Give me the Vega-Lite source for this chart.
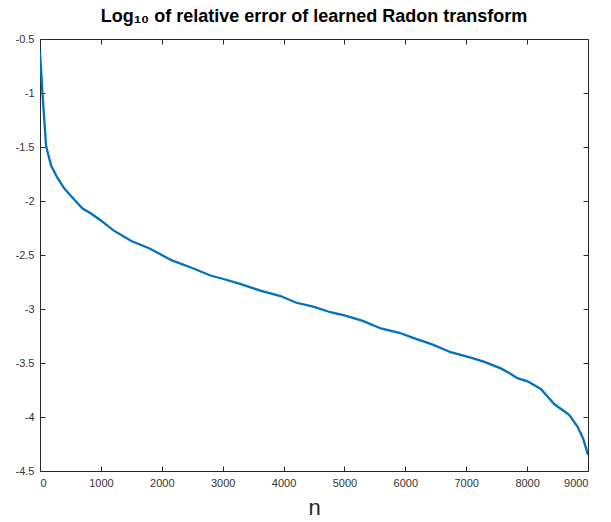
{
  "$schema": "https://vega.github.io/schema/vega-lite/v6.json",
  "autosize": {"type": "none"},
  "padding": {"left": 40, "top": 39, "right": 23, "bottom": 51},
  "width": 548,
  "height": 432,
  "background": "white",
  "config": {
    "view": {"stroke": "#262626", "strokeWidth": 1},
    "font": "Liberation Sans",
    "axis": {
      "grid": false,
      "domain": false,
      "tickColor": "#262626",
      "tickSize": -5,
      "labelColor": "#333333",
      "labelFont": "Liberation Sans",
      "labelFontSize": 11
    }
  },
  "title": {
    "text": "Log₁₀ of relative error of learned Radon transform",
    "font": "Liberation Sans",
    "fontSize": 18,
    "fontWeight": "bold",
    "color": "#000000",
    "anchor": "middle",
    "offset": 7
  },
  "data": {
    "values": [
      {"n": 0, "err": -0.62},
      {"n": 40, "err": -1.0},
      {"n": 100, "err": -1.49},
      {"n": 180, "err": -1.67},
      {"n": 280, "err": -1.78},
      {"n": 400, "err": -1.885},
      {"n": 550, "err": -1.98},
      {"n": 700, "err": -2.07},
      {"n": 850, "err": -2.12},
      {"n": 1000, "err": -2.18},
      {"n": 1200, "err": -2.27},
      {"n": 1500, "err": -2.37},
      {"n": 1800, "err": -2.44},
      {"n": 2166, "err": -2.55},
      {"n": 2500, "err": -2.62},
      {"n": 2800, "err": -2.69},
      {"n": 3000, "err": -2.72},
      {"n": 3300, "err": -2.77},
      {"n": 3619, "err": -2.83},
      {"n": 3950, "err": -2.88},
      {"n": 4200, "err": -2.94},
      {"n": 4500, "err": -2.98},
      {"n": 4770, "err": -3.03},
      {"n": 5000, "err": -3.06},
      {"n": 5300, "err": -3.11},
      {"n": 5600, "err": -3.18},
      {"n": 5900, "err": -3.22},
      {"n": 6140, "err": -3.27},
      {"n": 6450, "err": -3.33},
      {"n": 6745, "err": -3.4},
      {"n": 7074, "err": -3.45},
      {"n": 7300, "err": -3.49},
      {"n": 7567, "err": -3.55},
      {"n": 7700, "err": -3.59},
      {"n": 7840, "err": -3.64},
      {"n": 8006, "err": -3.67},
      {"n": 8225, "err": -3.74},
      {"n": 8350, "err": -3.82},
      {"n": 8444, "err": -3.88},
      {"n": 8690, "err": -3.98},
      {"n": 8830, "err": -4.09},
      {"n": 8920, "err": -4.2},
      {"n": 9000, "err": -4.35}
    ]
  },
  "layer": [
    {
      "mark": {"type": "line", "color": "#0072BD", "strokeWidth": 2.3, "clip": true},
      "encoding": {
        "x": {
          "field": "n",
          "type": "quantitative",
          "scale": {"domain": [0, 9000], "nice": false, "zero": false},
          "axis": {
            "orient": "bottom",
            "values": [0, 1000, 2000, 3000, 4000, 5000, 6000, 7000, 8000, 9000],
            "format": "d",
            "labelPadding": 11,
            "title": "n",
            "titleFont": "Liberation Sans",
            "titleFontSize": 22,
            "titleFontWeight": "normal",
            "titleColor": "#262626",
            "titlePadding": 9
          }
        },
        "y": {
          "field": "err",
          "type": "quantitative",
          "scale": {"domain": [-4.5, -0.5], "nice": false, "zero": false},
          "axis": {
            "orient": "left",
            "values": [-4.5, -4, -3.5, -3, -2.5, -2, -1.5, -1, -0.5],
            "labelExpr": "datum.value + ''",
            "labelPadding": 11,
            "title": null
          }
        }
      }
    },
    {
      "mark": {"type": "line", "opacity": 0},
      "encoding": {
        "x": {
          "field": "n",
          "type": "quantitative",
          "scale": {"domain": [0, 9000], "nice": false, "zero": false},
          "axis": {
            "orient": "top",
            "values": [1000, 2000, 3000, 4000, 5000, 6000, 7000, 8000],
            "labels": false,
            "title": null
          }
        },
        "y": {
          "field": "err",
          "type": "quantitative",
          "scale": {"domain": [-4.5, -0.5], "nice": false, "zero": false},
          "axis": {
            "orient": "right",
            "values": [-4, -3.5, -3, -2.5, -2, -1.5, -1],
            "labels": false,
            "title": null
          }
        }
      }
    }
  ],
  "resolve": {"axis": {"x": "independent", "y": "independent"}}
}
